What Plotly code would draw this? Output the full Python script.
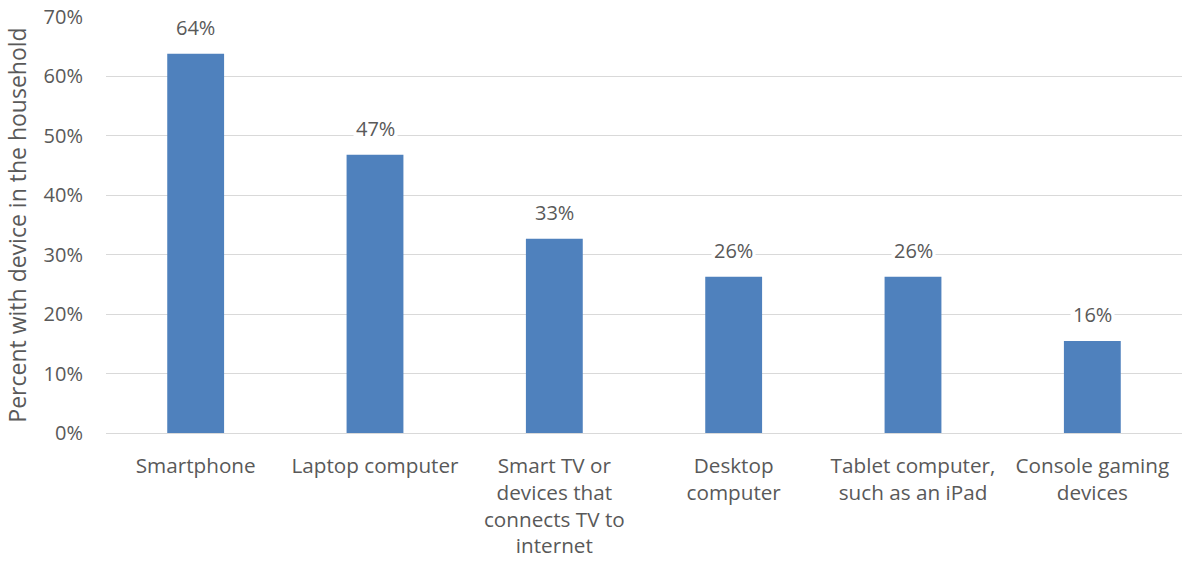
import plotly.graph_objects as go

# Share of households owning each device type
devices = [
    "Smartphone",
    "Laptop computer",
    "Smart TV or<br>devices that<br>connects TV to<br>internet",
    "Desktop<br>computer",
    "Tablet computer,<br>such as an iPad",
    "Console gaming<br>devices",
]
share = [0.638, 0.468, 0.327, 0.263, 0.263, 0.155]

tick_vals = [0, 0.1, 0.2, 0.3, 0.4, 0.5, 0.6, 0.7]

FONT = "Open Sans"
TEXT_COLOR = "#595959"
BAR_COLOR = "#4F81BD"

fig = go.Figure(
    go.Bar(
        x=devices,
        y=share,
        marker=dict(color=BAR_COLOR, line=dict(width=0)),
        hoverinfo="skip",
    )
)

# Value labels above each bar on a white backing
for d, v in zip(devices, share):
    fig.add_annotation(
        x=d, y=v, text=f"{v:.0%}", showarrow=False,
        yanchor="bottom", yshift=10, bgcolor="white", borderpad=2,
        font=dict(family=FONT, size=20, color=TEXT_COLOR),
    )

fig.update_layout(
    width=1182, height=563,
    margin=dict(l=106, r=0, t=17, b=130),
    plot_bgcolor="white", paper_bgcolor="white",
    bargap=0.683,
    showlegend=False,
    font=dict(family=FONT, size=20, color=TEXT_COLOR),
)
fig.update_xaxes(
    showgrid=False, showline=False, ticks="",
    tickfont=dict(family=FONT, size=20.7, color=TEXT_COLOR),
    ticklabelstandoff=18,
)
fig.update_yaxes(
    range=[0, 0.7], tickvals=tick_vals, tickformat=".0%",
    showgrid=True, gridcolor="#D9D9D9", gridwidth=1,
    zeroline=True, zerolinecolor="#D9D9D9", zerolinewidth=1,
    showline=False, ticks="",
    ticklabelstandoff=22,
    tickfont=dict(family=FONT, size=20, color=TEXT_COLOR),
    title=dict(text="Percent with device in the household",
               font=dict(family=FONT, size=23, color=TEXT_COLOR), standoff=10),
)

fig.write_html("out.html")
